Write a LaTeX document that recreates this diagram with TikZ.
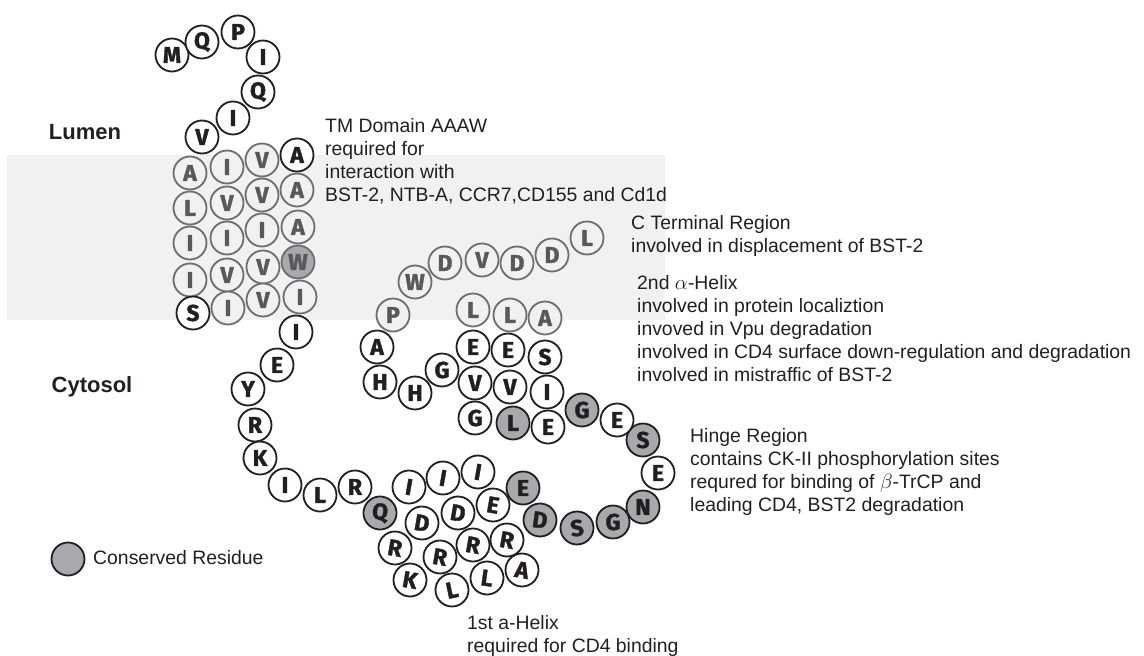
\documentclass[tikz,border=0pt]{standalone}
\usepackage{fontspec}
\setmainfont{Liberation Sans}
\newfontfamily\resfont{Fira Sans}[BoldFeatures={FakeBold=1.5}]
\usepackage{tikz}

\definecolor{ink}{HTML}{231F20}
\definecolor{tmline}{HTML}{6D6E71}
\definecolor{tmtext}{HTML}{58595B}
\definecolor{consfill}{HTML}{A7A9AC}
\definecolor{bandgrey}{HTML}{F1F1F2}

\tikzset{
    res/.style={circle, draw=ink, fill=white, line width=1.8pt, minimum size=33pt,
        inner sep=0pt, text=ink, font=\resfont\bfseries\fontsize{23}{23}\selectfont},
    tmres/.style={res, draw=tmline, fill=bandgrey, text=tmtext},
    cons/.style={res, fill=consfill},
    tmcons/.style={tmres, fill=consfill},
    note/.style={anchor=north west, align=left, inner sep=0pt, text=ink,
        font=\fontsize{19.4}{23}\selectfont},
    side/.style={inner sep=0pt, text=ink, font=\bfseries\fontsize{22}{26}\selectfont}
}

\begin{document}
\begin{tikzpicture}[x=1pt, y=-1pt]

\useasboundingbox (0,0) rectangle (1144,656);

% Membrane band
\fill[bandgrey] (7,155) rectangle (665,320);

\node[side] (lumen) at (85,132) {Lumen};
\node[side] (cytosol) at (92,387) {Cytosol};

% N terminus
\node[res] (nt1) at (172,55) {M};
\node[res] (nt2) at (202,42) {Q};
\node[res] (nt3) at (238,32) {P};
\node[res] (nt4) at (263,57) {I};
\node[res] (nt5) at (258,92) {Q};
\node[res] (nt6) at (233,118) {I};
\node[res] (nt7) at (202,137) {V};

% TM domain
\node[tmres] (tm1) at (190,173) {A};
\node[tmres] (tm2) at (227,167) {I};
\node[tmres] (tm3) at (262,160) {V};
\node[res] (tm4) at (297,155) {A};
\node[tmres] (tm5) at (190,208) {L};
\node[tmres] (tm6) at (227,203) {V};
\node[tmres] (tm7) at (262,195) {V};
\node[tmres] (tm8) at (297,190) {A};
\node[tmres] (tm9) at (190,243) {I};
\node[tmres] (tm10) at (227,238) {I};
\node[tmres] (tm11) at (262,230) {I};
\node[tmres] (tm12) at (298,227) {A};
\node[tmres] (tm13) at (190,280) {I};
\node[tmres] (tm14) at (227,275) {V};
\node[tmres] (tm15) at (263,267) {V};
\node[tmcons] (tm16) at (298,262) {W};
\node[res] (tm17) at (193,313) {S};
\node[tmres] (tm18) at (228,308) {I};
\node[tmres] (tm19) at (263,300) {V};
\node[tmres] (tm20) at (300,297) {I};

% Linker
\node[res] (lk1) at (296,332) {I};
\node[res] (lk2) at (277,365) {E};
\node[res] (lk3) at (248,389) {Y};
\node[res] (lk4) at (255,425) {R};
\node[res] (lk5) at (260,458) {K};
\node[res] (lk6) at (285,485) {I};
\node[res] (lk7) at (320,495) {L};
\node[res] (lk8) at (355,487) {R};

% 1st helix
\node[cons, rotate=-6] (ha1) at (380,513) {Q};
\node[res, rotate=-10] (ha2) at (409,487) {I};
\node[res, rotate=-10] (ha3) at (443,478) {I};
\node[res, rotate=-10] (ha4) at (478,472) {I};
\node[cons] (ha5) at (523,488) {E};
\node[res, rotate=-10] (ha6) at (422,523) {D};
\node[res, rotate=-10] (ha7) at (458,513) {D};
\node[res, rotate=-10] (ha8) at (493,505) {E};
\node[res, rotate=-10] (ha9) at (395,548) {R};
\node[res, rotate=-10] (ha10) at (440,557) {R};
\node[res, rotate=-10] (ha11) at (473,545) {R};
\node[res, rotate=-10] (ha12) at (507,540) {R};
\node[res, rotate=-10] (ha13) at (410,580) {K};
\node[res, rotate=12] (ha14) at (452,590) {L};
\node[res, rotate=-8] (ha15) at (487,578) {L};
\node[res, rotate=-10] (ha16) at (522,570) {A};

% Hinge
\node[cons, rotate=-8] (hg1) at (540,520) {D};
\node[cons, rotate=8] (hg2) at (577,528) {S};
\node[cons] (hg3) at (613,522) {G};
\node[cons] (hg4) at (643,507) {N};
\node[res] (hg5) at (658,473) {E};
\node[cons] (hg6) at (643,440) {S};
\node[res] (hg7) at (617,420) {E};
\node[cons] (hg8) at (582,410) {G};
\node[res] (hg9) at (548,427) {E};
\node[cons] (hg10) at (513,423) {L};
\node[res] (hg11) at (475,418) {G};

% 2nd helix
\node[res] (hb1) at (475,383) {V};
\node[res] (hb2) at (510,387) {V};
\node[res] (hb3) at (547,392) {I};
\node[res] (hb4) at (473,347) {E};
\node[res] (hb5) at (508,350) {E};
\node[res] (hb6) at (545,357) {S};
\node[tmres] (hb7) at (473,310) {L};
\node[tmres] (hb8) at (510,315) {L};
\node[tmres] (hb9) at (545,318) {A};
\node[res] (hb10) at (442,370) {G};
\node[res] (hb11) at (415,393) {H};
\node[res] (hb12) at (380,382) {H};
\node[res] (hb13) at (377,347) {A};

% C terminus
\node[tmres] (ct1) at (393,315) {P};
\node[tmres] (ct2) at (415,282) {W};
\node[tmres] (ct3) at (445,263) {D};
\node[tmres] (ct4) at (482,260) {V};
\node[tmres] (ct5) at (517,263) {D};
\node[tmres] (ct6) at (552,255) {D};
\node[tmres] (ct7) at (587,238) {L};

% Region notes
\node[note] (tmnote) at (325,118) {TM Domain AAAW\\required for\\interaction with\\BST-2, NTB-A, CCR7,CD155 and Cd1d};
\node[note] (ctnote) at (631,215) {C Terminal Region\\involved in displacement of BST-2};
\node[note] (hbnote) at (637,275) {2nd $\alpha$-Helix\\involved in protein localiztion\\invoved in Vpu degradation\\involved in CD4 surface down-regulation and degradation\\involved in mistraffic of BST-2};
\node[note] (hgnote) at (690,428) {Hinge Region\\contains CK-II phosphorylation sites\\requred for binding of $\beta$-TrCP and\\leading CD4, BST2 degradation};
\node[note] (hanote) at (467,615) {1st a-Helix\\required for CD4 binding};

% Legend
\node[cons] (key) at (68,559) {};
\node[note, anchor=west] (keytext) at (93,558) {Conserved Residue};

\end{tikzpicture}
\end{document}
